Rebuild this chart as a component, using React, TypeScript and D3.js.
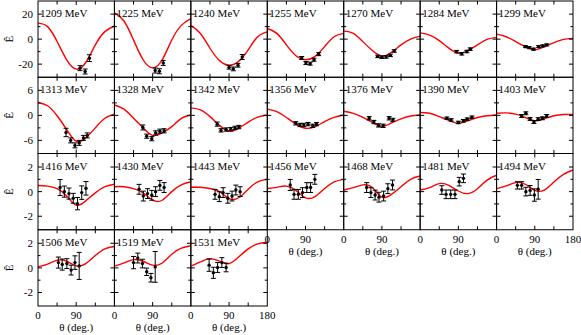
import * as d3 from 'd3';
import React from 'react';

// beam energies, one panel each
const energies = [1209, 1225, 1240, 1255, 1270, 1284, 1299, 1313, 1328, 1342, 1356, 1376, 1390, 1403,
  1416, 1430, 1443, 1456, 1468, 1481, 1494, 1506, 1519, 1531];

// theory curves read at these angles
const thetaGrid = [0, 22.5, 45, 67.5, 90, 112.5, 135, 157.5, 180];
const curves = [
  [12.8, 10, -1.9, -16.6, -24, -18.7, -4.6, 6, 10.5],
  [21, 14.5, -0.7, -16.5, -23, -16.5, -0.7, 11, 16.4],
  [11, 4.5, -7.3, -17.2, -20.9, -17.8, -8.6, 1.9, 5.8],
  [8.5, 4.6, -4.6, -13.3, -16.5, -13.8, -6, 1.9, 4.6],
  [6.4, 4.6, -2, -9.1, -13.5, -10.5, -4.6, 0, 2.4],
  [5, 3.2, -1.2, -7.2, -11.2, -9.1, -4.6, -0.2, 1.4],
  [4, 1.9, -2, -6, -8.6, -6, -2.8, -0.2, 0.6],
  [3.1, 2.3, -0.1, -3.4, -6.2, -5.4, -3, -0.7, 0.3],
  [2.5, 1.5, -0.7, -3, -4.8, -4.2, -2.7, -0.7, 0.1],
  [1.8, 1.3, -0.3, -2.4, -3.8, -3.1, -1.6, -0.4, 0.1],
  [1.5, 0.9, -0.5, -2.1, -3.1, -2.7, -1.5, -0.5, 0.1],
  [1.0, 0.5, -0.5, -1.7, -2.6, -1.8, -0.85, -0.15, 0.1],
  [0.7, 0.5, -0.3, -1.2, -1.9, -1.3, -0.5, -0.1, 0.1],
  [0.5, 0.6, 0.3, -0.5, -1.3, -0.8, -0.1, 0.2, 0.25],
  [0.5, 0.45, 0.25, -0.35, -1.1, -0.75, -0.1, 0.4, 0.6],
  [0.4, 0.4, 0.25, -0.1, -0.7, -0.7, 0, 0.55, 0.8],
  [0.35, 0.35, 0.25, 0, -0.57, -0.5, 0.2, 0.8, 1.0],
  [0.25, 0.35, 0.45, 0.1, -0.5, -0.4, 0.25, 0.8, 1.0],
  [0.13, 0.33, 0.55, 0.33, -0.45, -0.22, 0.4, 1.0, 1.27],
  [0.13, 0.33, 0.65, 0.51, 0.05, -0.16, 0.24, 0.94, 1.33],
  [0.24, 0.46, 0.73, 0.6, 0.1, 0.13, 0.78, 1.4, 1.76],
  [0.08, 0.3, 0.62, 0.54, 0.16, 0.35, 1.0, 1.55, 1.74],
  [0.14, 0.4, 0.67, 0.54, 0.22, 0.4, 1.1, 1.6, 1.8],
  [0.14, 0.48, 0.75, 0.54, 0.35, 0.88, 1.55, 1.95, 2.08],
];

// measured points
const pointTheta = [
  [99, 111, 121],
  [96, 106, 115],
  [90, 100, 111, 121],
  [81, 91, 101, 110, 121],
  [80, 90, 100, 110, 119],
  [86, 98, 110, 118],
  [68, 77, 87, 99, 109, 118],
  [66, 77, 87, 97, 107, 116],
  [67, 76, 88, 97, 107, 117],
  [62, 71, 83, 94, 104, 113],
  [67, 77, 86, 96, 107, 116],
  [60, 71, 82, 93, 107, 116],
  [63, 73, 90, 102, 111, 122],
  [59, 69, 79, 88, 98, 108, 118],
  [52, 62, 73, 83, 93, 103, 113],
  [58, 68, 78, 88, 97, 107, 117],
  [57, 67, 76, 87, 97, 106, 116],
  [54, 63, 73, 83, 93, 102, 112],
  [54, 64, 74, 83, 94, 104, 115],
  [51, 61, 72, 82, 92, 102],
  [49, 59, 69, 79, 89, 98],
  [48, 57, 68, 78, 87, 97],
  [45, 55, 66, 76, 86, 96],
  [43, 53, 63, 73, 83],
];
const pointE = [
  [-23.2, -25.9, -15.2],
  [-25.1, -25.7, -19],
  [-22.5, -23.8, -20.9, -14.3],
  [-15.1, -19.1, -19.6, -16.5, -12],
  [-13.8, -14.5, -14.2, -13, -9.5],
  [-10, -11.7, -9.9, -8],
  [-6, -6.8, -8, -6, -5.4, -4.6],
  [-4.1, -6, -7.2, -6.6, -5.4, -4.8],
  [-2.9, -5, -5.6, -4.2, -3.8, -3.7],
  [-2.1, -3.6, -3.4, -3.3, -3, -2.8],
  [-1.9, -2.3, -2.3, -2.1, -2.5, -2.1],
  [-0.7, -1.6, -2.4, -2.5, -0.7, -1.1],
  [-0.7, -1.1, -1.7, -1.3, -0.9, -0.45],
  [-0.15, 0.5, -0.85, -1.6, -0.9, -0.7, -0.15],
  [0.33, 0, -0.16, -0.54, -0.98, -0.08, 0.27],
  [0.19, -0.36, -0.16, -0.3, 0, 0.51, 0.33],
  [-0.22, -0.41, -0.08, -0.54, -0.36, 0.13, 0],
  [0.54, -0.22, -0.22, -0.08, 0.33, 0.33, 1.0],
  [0.33, -0.08, -0.28, -0.45, -0.36, 0.24, 0.54],
  [0.13, -0.22, -0.22, -0.22, 0.81, 1.08],
  [0.51, 0.51, 0, 0.1, -0.28, 0.19],
  [0.43, 0.27, 0.35, -0.18, 0.43, 0.16],
  [0.43, 0.8, 0.35, -0.32, -0.8, 0.08],
  [0.22, -0.4, 0.03, 0.43, 0.03],
];
const pointErr = [
  [2, 2, 2.7],
  [2, 2, 2],
  [1.5, 1.5, 1.5, 2],
  [1.2, 1.2, 1.2, 1.2, 1.2],
  [1, 1, 1, 1, 1],
  [1, 1, 1, 1],
  [0.8, 0.8, 0.8, 0.8, 0.8, 0.8],
  [1.0, 0.6, 0.6, 0.6, 0.6, 0.6],
  [0.6, 0.5, 0.5, 0.5, 0.5, 0.5],
  [0.5, 0.4, 0.4, 0.4, 0.4, 0.4],
  [0.4, 0.4, 0.4, 0.4, 0.4, 0.4],
  [0.4, 0.4, 0.4, 0.4, 0.4, 0.4],
  [0.3, 0.3, 0.3, 0.3, 0.3, 0.3],
  [0.35, 0.35, 0.35, 0.35, 0.35, 0.35, 0.35],
  [0.65, 0.45, 0.45, 0.4, 0.5, 0.55, 0.55],
  [0.4, 0.4, 0.4, 0.4, 0.4, 0.4, 0.4],
  [0.4, 0.4, 0.4, 0.4, 0.4, 0.4, 0.4],
  [0.45, 0.4, 0.4, 0.4, 0.4, 0.4, 0.4],
  [0.4, 0.4, 0.4, 0.4, 0.4, 0.4, 0.4],
  [0.35, 0.35, 0.35, 0.35, 0.35, 0.35],
  [0.3, 0.3, 0.35, 0.4, 0.5, 0.8],
  [0.45, 0.45, 0.4, 0.4, 0.55, 1.1],
  [0.5, 0.4, 0.35, 0.3, 0.35, 1.25],
  [0.5, 0.45, 0.4, 0.4, 0.35],
];

// y range and tick values per row
const rowLimits = [30.5, 9.15, 3.1, 3.1];
const rowMajor = [[-20, 0, 20], [-6, 0, 6], [-2, 0, 2], [-2, 0, 2]];
const rowMinor = [[-10, 10], [-3, 3], [-1, 1], [-1, 1]];
const xTickVals = [45, 90, 135];

const W = 581, H = 335;
const left = 38, top = 1;
const nCols = 7;
const panelW = 535 / nCols, panelH = 76.25;
const font = 'Liberation Serif, DejaVu Serif, serif';

function Panel({ i }: { i: number }) {
  const row = Math.floor(i / nCols), col = i % nCols;
  const lim = rowLimits[row];
  const x = d3.scaleLinear().domain([0, 180]).range([0, panelW]);
  const y = d3.scaleLinear().domain([-lim, lim]).range([panelH, 0]);
  const line = d3.line<number>()
    .x((d, k) => x(thetaGrid[k]))
    .y(d => y(d))
    .curve(d3.curveNatural);
  const showX = i + nCols >= energies.length;
  const show180 = col === nCols - 1 || i === energies.length - 1;
  const tk = 4, tkm = 2.5;

  return (
    <g transform={`translate(${left + col * panelW},${top + row * panelH})`}>
      <path d={line(curves[i]) || ''} fill="none" stroke="#ff0000" strokeWidth={1.4} />
      {pointTheta[i].map((t, k) => {
        const px = x(t), py = y(pointE[i][k]);
        const y0 = y(pointE[i][k] - pointErr[i][k]), y1 = y(pointE[i][k] + pointErr[i][k]);
        return (
          <g key={k} stroke="#000" strokeWidth={1}>
            <line x1={px} x2={px} y1={y0} y2={y1} />
            <line x1={px - 2.5} x2={px + 2.5} y1={y0} y2={y0} />
            <line x1={px - 2.5} x2={px + 2.5} y1={y1} y2={y1} />
            <circle cx={px} cy={py} r={1.7} fill="#000" stroke="none" />
          </g>
        );
      })}
      <rect x={0} y={0} width={panelW} height={panelH} fill="none" stroke="#000" strokeWidth={1} />
      <g stroke="#000" strokeWidth={1}>
        {rowMajor[row].map(v => (
          <g key={'M' + v}>
            <line x1={0} x2={tk} y1={y(v)} y2={y(v)} />
            <line x1={panelW - tk} x2={panelW} y1={y(v)} y2={y(v)} />
          </g>
        ))}
        {rowMinor[row].map(v => (
          <g key={'m' + v}>
            <line x1={0} x2={tkm} y1={y(v)} y2={y(v)} />
            <line x1={panelW - tkm} x2={panelW} y1={y(v)} y2={y(v)} />
          </g>
        ))}
        {xTickVals.map(t => (
          <g key={'x' + t}>
            <line x1={x(t)} x2={x(t)} y1={0} y2={t === 90 ? tk : tkm + 1} />
            <line x1={x(t)} x2={x(t)} y1={panelH} y2={panelH - (t === 90 ? tk : tkm + 1)} />
          </g>
        ))}
      </g>
      <text x={2} y={16} fontSize={11} style={{ fontFamily: font }}>{energies[i]} MeV</text>
      {col === 0 && (
        <g fontSize={11} style={{ fontFamily: font }}>
          {rowMajor[row].map(v => (
            <text key={v} x={-5} y={y(v) + 4} textAnchor="end">{v}</text>
          ))}
          <text transform={`translate(-25,${panelH / 2}) rotate(-90)`} textAnchor="middle">Ê</text>
        </g>
      )}
      {showX && (
        <g fontSize={11} style={{ fontFamily: font }} textAnchor="middle">
          <text x={x(0)} y={panelH + 13}>0</text>
          <text x={x(90)} y={panelH + 13}>90</text>
          {show180 && <text x={x(180)} y={panelH + 13}>180</text>}
          <text x={x(90)} y={panelH + 25}>θ (deg.)</text>
        </g>
      )}
    </g>
  );
}

export default function App() {
  return (
    <svg width={W} height={H} style={{ position: 'absolute', left: 0, top: 0, background: '#fff', fontFamily: font }}>
      <rect width={W} height={H} fill="#fff" />
      {energies.map((e, i) => <Panel key={e} i={i} />)}
    </svg>
  );
}
